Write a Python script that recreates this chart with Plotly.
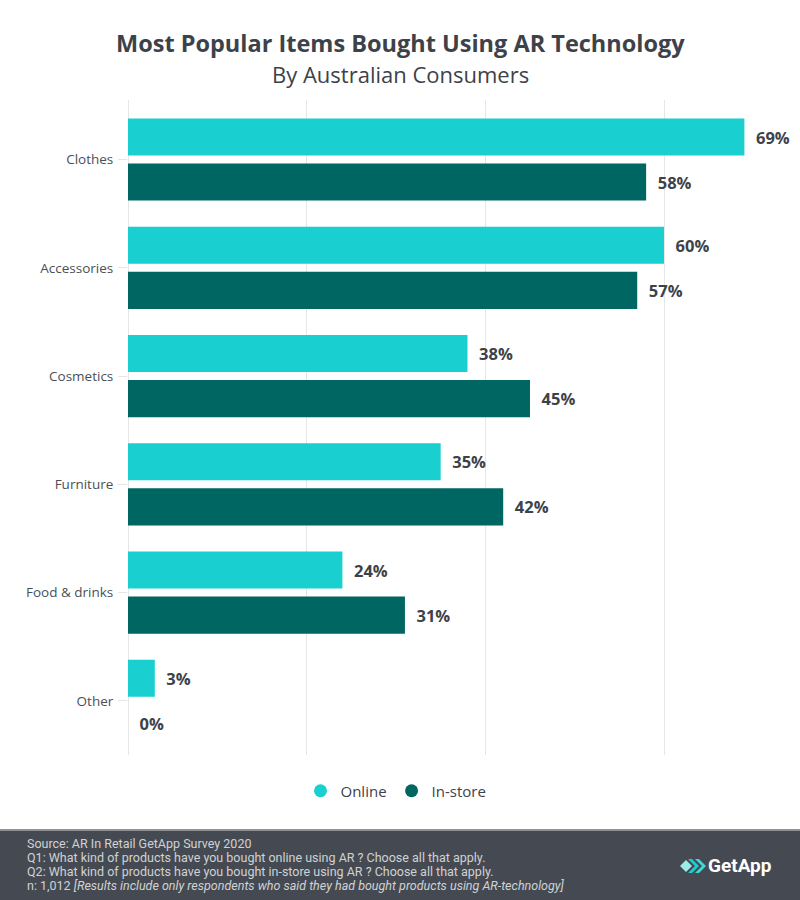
import plotly.graph_objects as go

categories = ["Clothes", "Accessories", "Cosmetics", "Furniture", "Food & drinks", "Other"]
online = [69, 60, 38, 35, 24, 3]
instore = [58, 57, 45, 42, 31, 0]
series_names = ["Online", "In-store"]
colors = ["#19CFCF", "#006661"]
footer_lines = [
    "Source: AR In Retail GetApp Survey 2020",
    "Q1: What kind of products have you bought online using AR ? Choose all that apply.",
    "Q2: What kind of products have you bought in-store using AR ? Choose all that apply.",
    "n: 1,012 <i>[Results include only respondents who said they had bought products using AR-technology]</i>",
]

W, H = 800, 900
ML, MR, MT, MB = 128, 2, 100, 145
PW, PH = W - ML - MR, H - MT - MB

def px(x):
    return (x - ML) / PW

def py(y):
    return (H - MB - y) / PH

TEXT = "#3d4249"
FONT = "Open Sans, sans-serif"
NB = "\u00a0\u00a0"

fig = go.Figure()
for name, vals, col in zip(series_names, [online, instore], colors):
    fig.add_trace(go.Bar(
        y=categories, x=vals, name=name, orientation="h",
        marker=dict(color=col, line=dict(width=0)),
        text=[f"{NB}{v}%" for v in vals], textposition="outside",
        textfont=dict(size=16.5, color=TEXT, family=FONT, weight="bold"),
        cliponaxis=False, hoverinfo="skip", showlegend=False,
    ))
for name, col in zip(series_names, colors):
    fig.add_trace(go.Scatter(
        x=[None], y=[None], mode="markers", name=name,
        marker=dict(color=col, size=13, symbol="circle"), showlegend=True,
    ))

shapes = [
    dict(type="rect", xref="paper", yref="paper", x0=px(0), x1=px(W), y0=py(H), y1=py(831),
         fillcolor="#454a52", line=dict(width=0), layer="above"),
    dict(type="rect", xref="paper", yref="paper", x0=px(0), x1=px(W), y0=py(831), y1=py(829),
         fillcolor="#8e9196", line=dict(width=0), layer="above"),
]

def poly(points, color):
    d = "M " + " L ".join(f"{px(x)} {py(y)}" for x, y in points) + " Z"
    return dict(type="path", xref="paper", yref="paper", path=d, fillcolor=color,
                line=dict(width=0), layer="above")

cy = 866
shapes.append(poly([(680, cy), (686, cy - 6), (692, cy), (686, cy + 6)], "#9bece8"))
shapes.append(poly([(688, cy - 7), (692, cy - 7), (699, cy), (692, cy + 7), (688, cy + 7), (695, cy)], "#19CFCF"))
shapes.append(poly([(695, cy - 7), (699, cy - 7), (706, cy), (699, cy + 7), (695, cy + 7), (702, cy)], "#3fd9d4"))

annotations = [
    dict(xref="paper", yref="paper", x=px(400), y=py(43), xanchor="center", yanchor="middle",
         text="<b>Most Popular Items Bought Using AR Technology</b>", showarrow=False,
         font=dict(size=23.5, color=TEXT, family=FONT)),
    dict(xref="paper", yref="paper", x=px(400), y=py(74), xanchor="center", yanchor="middle",
         text="By Australian Consumers", showarrow=False,
         font=dict(size=22, color=TEXT, family=FONT)),
    dict(xref="paper", yref="paper", x=px(706), y=py(866), xanchor="left", yanchor="middle",
         text="<b>GetApp</b>", showarrow=False,
         font=dict(size=19, color="#ffffff", family="Roboto")),
]
for i, line in enumerate(footer_lines):
    annotations.append(dict(
        xref="paper", yref="paper", x=px(25), y=py(843 + 14 * i), xanchor="left", yanchor="middle",
        text=line, showarrow=False, font=dict(size=12.5, color="#d0d2d4", family="Roboto")))

fig.update_layout(
    width=W, height=H,
    margin=dict(l=ML, r=MR, t=MT, b=MB, pad=0),
    paper_bgcolor="white", plot_bgcolor="white",
    barmode="group", bargap=0.167, bargroupgap=0.178,
    font=dict(family=FONT, color=TEXT),
    xaxis=dict(range=[0, 75], tickvals=[0, 20, 40, 60], showticklabels=False,
               showgrid=True, gridcolor="#e6e6e6", gridwidth=1, zeroline=True,
               zerolinecolor="#e6e6e6", zerolinewidth=1, fixedrange=True),
    yaxis=dict(range=[5.5, -0.55], ticks="outside", ticklen=9, tickcolor="#e6e6e6",
               tickwidth=1, ticklabelstandoff=2,
               tickfont=dict(size=13.5, color="#4a4f55", family=FONT), showgrid=False,
               zeroline=False, showline=False, fixedrange=True),
    showlegend=True,
    legend=dict(orientation="h", xref="container", yref="container", x=0.495, xanchor="center",
                y=1 - 791 / H, yanchor="middle", font=dict(size=15, color=TEXT, family=FONT),
                itemwidth=30, traceorder="normal"),
    shapes=shapes, annotations=annotations,
)

fig.write_html("out.html", config={"displayModeBar": False},
               post_script="document.body.style.margin='0';document.body.style.overflow='hidden';")
